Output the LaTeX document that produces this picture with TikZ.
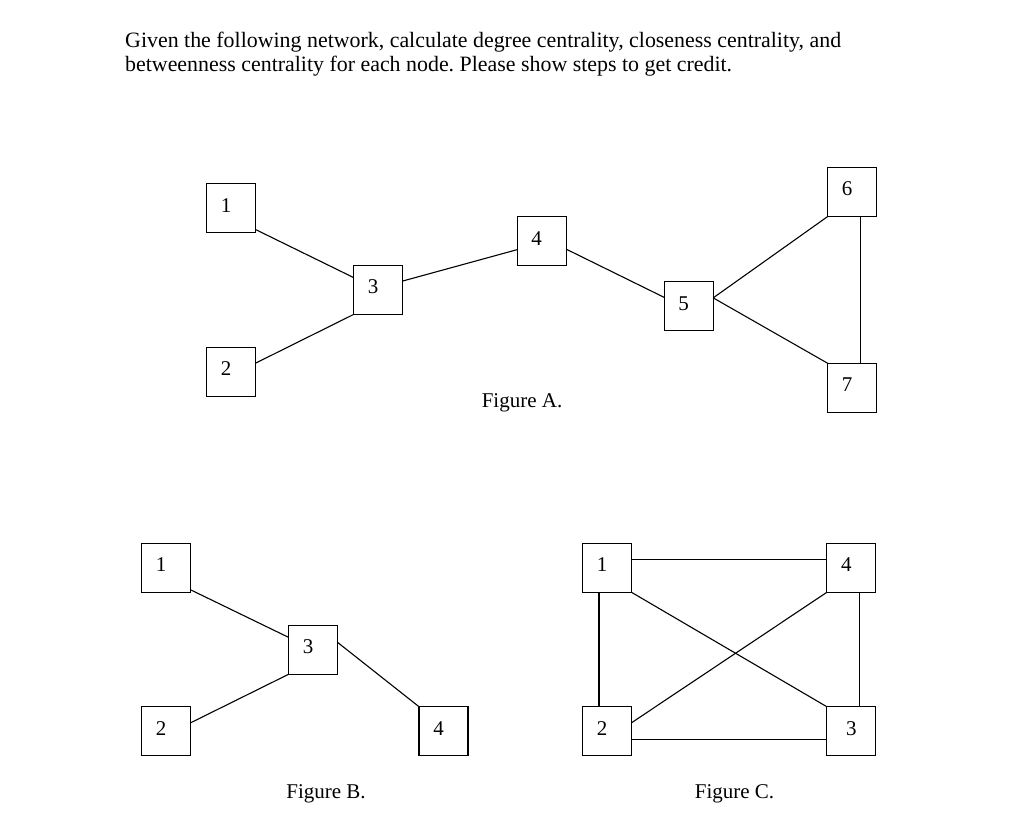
\documentclass[tikz,border=0pt]{standalone}
\usepackage{fontspec}
\setmainfont{Liberation Serif}
\frenchspacing
\begin{document}
\begin{tikzpicture}[x=1pt,y=-1pt,
  box/.style={draw,line width=1.1pt,minimum size=49pt,inner sep=0pt,outer sep=0pt},
  edge/.style={line width=1.1pt},
  txt/.style={font=\fontsize{21}{24}\selectfont,inner sep=0pt},
  ttl/.style={font=\fontsize{21.9}{24}\selectfont,inner sep=0pt}]
\useasboundingbox (0,0) rectangle (1024,824);
\fill[white] (0,0) rectangle (1024,824);
% title
\node[ttl,anchor=base west] (t1) at (125,47.7) {Given the following network, calculate degree centrality, closeness centrality, and};
\node[ttl,anchor=base west] (t2) at (125,71.7) {betweenness centrality for each node. Please show steps to get credit.};
% labels style
\tikzset{num/.style={label={[txt,xshift=-5pt,yshift=3pt]center:#1}}}
% Figure A
\node[box,num=1] (A1) at (231.2,208.3) {};
\node[box,num=2] (A2) at (231.2,372) {};
\node[box,num=3] (A3) at (378,290) {};
\node[box,num=4] (A4) at (541.7,241.2) {};
\node[box,num=5] (A5) at (688.7,306.3) {};
\node[box,num=6] (A6) at (852.2,192) {};
\node[box,num=7] (A7) at (852.2,387.8) {};
\draw[edge] (A1.-41.5) -- (A3.153.5);
\draw[edge] (A2.20.8) -- (A3.south west);
\draw[edge] (A3.20.2) -- (A4.-161.3);
\draw[edge] (A4.-18.7) -- (A5.160.5);
\draw[edge] (A5.19.5) -- (A6.south west);
\draw[edge] (A5.19.5) -- (A7.north west);
\draw[edge] ([xshift=8pt]A6.south) -- ([xshift=8pt]A7.north);
\node[txt,anchor=base] (FA) at (522,407) {Figure A.};
% Figure B
\node[box,num=1] (B1) at (166.2,567.8) {};
\node[box,num=2] (B2) at (166.2,731.2) {};
\node[box,num=3] (B3) at (313,649.8) {};
\node[box,num=4] (B4) at (443.5,731.2) {};
\draw[edge] (B1.-42.2) -- (B3.153);
\draw[edge] (B2.19.1) -- (B3.south west);
\draw[edge] (B3.17) -- (B4.north west);
\node[txt,anchor=base] (FB) at (326,798) {Figure B.};
% Figure C
\node[box,num=1] (C1) at (607,567.8) {};
\node[box,num=4] (C4) at (851.3,567.8) {};
\node[box,num=2] (C2) at (607,731.2) {};
\node[box,label={[txt,yshift=3pt]center:3}] (C3) at (851.3,731.2) {};
\draw[edge] ([yshift=8pt]C1.east) -- ([yshift=8pt]C4.west);
\draw[edge] ([xshift=-8pt]C1.south) -- ([xshift=-8pt]C2.north);
\draw[edge] ([xshift=8pt]C4.south) -- ([xshift=8pt]C3.north);
\draw[edge] ([yshift=-8pt]C2.east) -- ([yshift=-8pt]C3.west);
\draw[edge] (C1.south east) -- (C3.north west);
\draw[edge] (C2.19) -- (C4.south west);
\node[txt,anchor=base] (FC) at (734.5,798) {Figure C.};
\end{tikzpicture}
\end{document}
